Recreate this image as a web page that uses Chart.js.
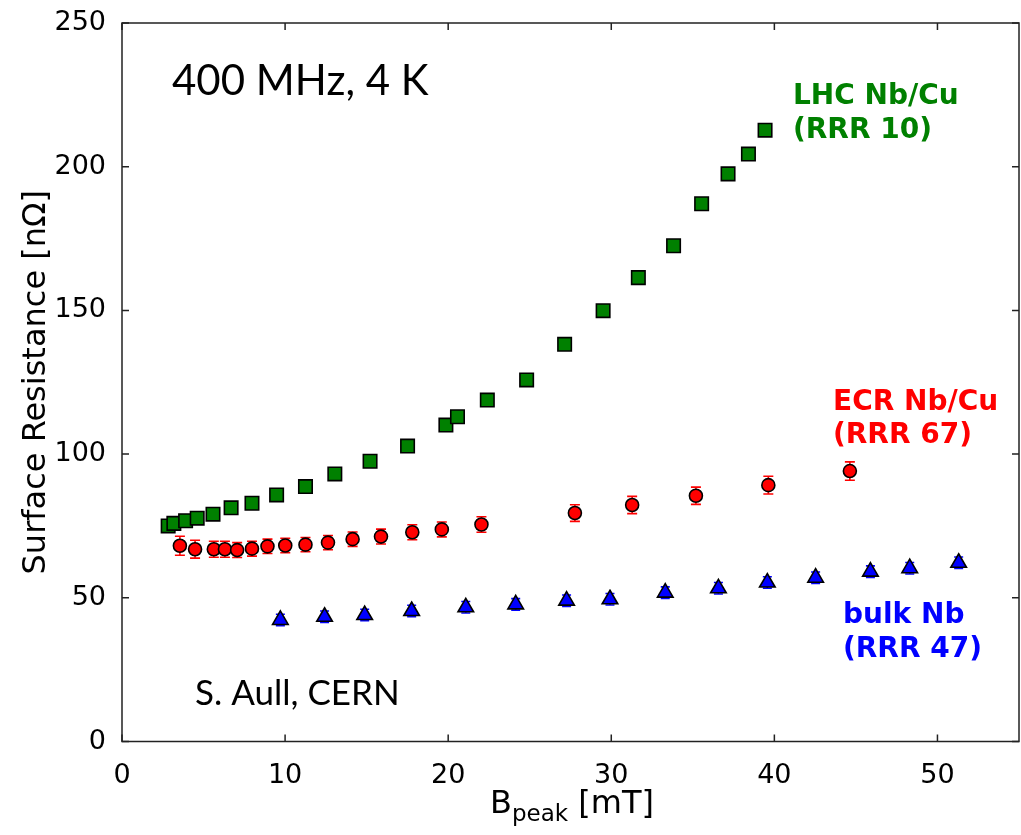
<!DOCTYPE html>
<html>
<head>
<meta charset="utf-8">
<script src="https://cdn.jsdelivr.net/npm/chart.js@4.4.0/dist/chart.umd.min.js"></script>
<style>
  html, body { margin: 0; padding: 0; background: #fff; }
  #wrap { width: 1021px; height: 835px; }
</style>
</head>
<body>
<div id="wrap"><canvas id="c" width="1021" height="835"></canvas></div>
<script>
// LHC Nb/Cu (RRR 10)
const lhcX = [2.83, 3.18, 3.90, 4.61, 5.58, 6.69, 7.97, 9.48, 11.25, 13.05, 15.21, 17.51, 19.86, 20.57, 22.40, 24.81, 27.14, 29.50, 31.66, 33.82, 35.54, 37.16, 38.41, 39.43];
const lhcY = [75.0, 75.9, 76.8, 77.7, 79.1, 81.3, 82.9, 85.8, 88.7, 93.1, 97.5, 102.8, 110.1, 113.0, 118.8, 125.8, 138.2, 149.9, 161.4, 172.5, 187.1, 197.5, 204.4, 212.7];

// ECR Nb/Cu (RRR 67)
const ecrX = [3.55, 4.48, 5.63, 6.31, 7.06, 7.97, 8.92, 10.01, 11.25, 12.63, 14.14, 15.88, 17.80, 19.61, 22.04, 27.77, 31.28, 35.19, 39.63, 44.63];
const ecrY = [68.1, 66.9, 66.9, 66.9, 66.6, 67.1, 67.9, 68.2, 68.5, 69.2, 70.4, 71.3, 72.8, 73.8, 75.5, 79.5, 82.3, 85.5, 89.2, 94.1];
const ecrErr = [3.3, 3.1, 2.8, 2.8, 2.6, 2.6, 2.5, 2.5, 2.5, 2.5, 2.5, 2.6, 2.6, 2.6, 2.7, 2.9, 3.0, 3.0, 3.1, 3.2];

// bulk Nb (RRR 47)
const bulkX = [9.71, 12.42, 14.88, 17.76, 21.08, 24.14, 27.26, 29.92, 33.31, 36.57, 39.57, 42.53, 45.89, 48.30, 51.30];
const bulkY = [42.3, 43.4, 44.0, 45.4, 46.7, 47.7, 49.0, 49.5, 51.8, 53.3, 55.3, 57.0, 59.1, 60.3, 62.2];
const bulkErr = [2.0, 2.0, 2.0, 2.0, 2.0, 2.0, 2.0, 2.0, 2.0, 2.0, 2.0, 2.0, 2.0, 2.0, 2.0];

const xTicks = [0, 10, 20, 30, 40, 50];
const yTicks = [0, 50, 100, 150, 200, 250];

const toPoints = (xs, ys) => xs.map((x, i) => ({ x, y: ys[i] }));

// frame, inward ticks, error bars and annotations
const decor = {
  id: 'decor',
  beforeDatasetsDraw(chart) {
    const { ctx } = chart;
    const xs = chart.scales.x, ys = chart.scales.y;
    chart.data.datasets.forEach(ds => {
      if (!ds.err) return;
      ctx.save();
      ctx.strokeStyle = ds.errColor;
      ctx.lineWidth = 1.6;
      ds.data.forEach((p, i) => {
        const px = xs.getPixelForValue(p.x);
        const top = ys.getPixelForValue(p.y + ds.err[i]);
        const bot = ys.getPixelForValue(p.y - ds.err[i]);
        ctx.beginPath();
        ctx.moveTo(px, top); ctx.lineTo(px, bot);
        ctx.moveTo(px - ds.cap, top); ctx.lineTo(px + ds.cap, top);
        ctx.moveTo(px - ds.cap, bot); ctx.lineTo(px + ds.cap, bot);
        ctx.stroke();
      });
      ctx.restore();
    });
  },
  afterDraw(chart) {
    const { ctx, chartArea: a } = chart;
    const xs = chart.scales.x, ys = chart.scales.y;
    ctx.save();
    ctx.strokeStyle = '#222';
    ctx.lineWidth = 1.5;
    ctx.strokeRect(a.left, a.top, a.right - a.left, a.bottom - a.top);
    ctx.beginPath();
    const tl = 7;
    xTicks.forEach(v => {
      const px = xs.getPixelForValue(v);
      ctx.moveTo(px, a.bottom); ctx.lineTo(px, a.bottom - tl);
      ctx.moveTo(px, a.top); ctx.lineTo(px, a.top + tl);
    });
    yTicks.forEach(v => {
      const py = ys.getPixelForValue(v);
      ctx.moveTo(a.left, py); ctx.lineTo(a.left + tl, py);
      ctx.moveTo(a.right, py); ctx.lineTo(a.right - tl, py);
    });
    ctx.stroke();

    // annotations
    ctx.fillStyle = '#000';
    ctx.textBaseline = 'alphabetic';
    ctx.textAlign = 'left';
    ctx.font = '42px Lato';
    ctx.fillText('400 MHz, 4 K', 172, 95);
    ctx.font = '35px Lato';
    ctx.fillText('S. Aull, CERN', 195, 705);

    ctx.font = 'bold 28px "DejaVu Sans"';
    ctx.fillStyle = '#008000';
    ctx.fillText('LHC Nb/Cu', 793, 104);
    ctx.fillText('(RRR 10)', 793, 138);
    ctx.fillStyle = '#ff0000';
    ctx.fillText('ECR Nb/Cu', 833, 410);
    ctx.fillText('(RRR 67)', 833, 443);
    ctx.fillStyle = '#0000ff';
    ctx.fillText('bulk Nb', 843, 623);
    ctx.fillText('(RRR 47)', 843, 657);

    // axis titles
    ctx.fillStyle = '#000';
    const big = '32px "DejaVu Sans"', small = '23px "DejaVu Sans"';
    ctx.font = big; const wB = ctx.measureText('B').width;
    ctx.font = small; const wS = ctx.measureText('peak').width;
    ctx.font = big; const wT = ctx.measureText(' [mT]').width;
    const x0 = 572 - (wB + wS + wT) / 2;
    const base = 813;
    ctx.font = big; ctx.fillText('B', x0, base);
    ctx.font = small; ctx.fillText('peak', x0 + wB, base + 8);
    ctx.font = big; ctx.fillText(' [mT]', x0 + wB + wS, base);

    ctx.translate(45, (a.top + a.bottom) / 2);
    ctx.rotate(-Math.PI / 2);
    ctx.textAlign = 'center';
    ctx.font = big;
    ctx.fillText('Surface Resistance [n\u03A9]', 0, 0);
    ctx.restore();
  }
};

new Chart(document.getElementById('c'), {
  type: 'scatter',
  data: {
    datasets: [
      {
        label: 'LHC Nb/Cu',
        data: toPoints(lhcX, lhcY),
        pointStyle: 'rect',
        pointRadius: 9.5,
        backgroundColor: '#008000',
        borderColor: '#000',
        borderWidth: 1.6
      },
      {
        label: 'ECR Nb/Cu',
        data: toPoints(ecrX, ecrY),
        err: ecrErr, errColor: '#ff0000', cap: 5,
        pointStyle: 'circle',
        pointRadius: 6.5,
        backgroundColor: '#ff0000',
        borderColor: '#000',
        borderWidth: 1.6
      },
      {
        label: 'bulk Nb',
        data: toPoints(bulkX, bulkY),
        err: bulkErr, errColor: '#0000ff', cap: 4.5,
        pointStyle: 'triangle',
        pointRadius: 9,
        backgroundColor: '#0000ff',
        borderColor: '#000',
        borderWidth: 1.6
      }
    ]
  },
  options: {
    responsive: false,
    animation: false,
    devicePixelRatio: 1,
    layout: { autoPadding: false, padding: { top: 23, right: 2, left: 0, bottom: 0 } },
    plugins: { legend: { display: false }, tooltip: { enabled: false } },
    scales: {
      x: {
        type: 'linear',
        min: 0, max: 55,
        grid: { display: false, drawTicks: false },
        border: { display: false },
        ticks: { font: { family: 'DejaVu Sans', size: 27 }, color: '#000', padding: 18 },
        afterBuildTicks: s => { s.ticks = xTicks.map(v => ({ value: v })); },
        afterFit: s => { s.height = 93.5; s.paddingLeft = 0; s.paddingRight = 0; }
      },
      y: {
        type: 'linear',
        min: 0, max: 250,
        grid: { display: false, drawTicks: false },
        border: { display: false },
        ticks: { font: { family: 'DejaVu Sans', size: 27 }, color: '#000', padding: 16 },
        afterBuildTicks: s => { s.ticks = yTicks.map(v => ({ value: v })); },
        afterFit: s => { s.width = 122; s.paddingTop = 0; s.paddingBottom = 0; }
      }
    }
  },
  plugins: [decor]
});
</script>
</body>
</html>
